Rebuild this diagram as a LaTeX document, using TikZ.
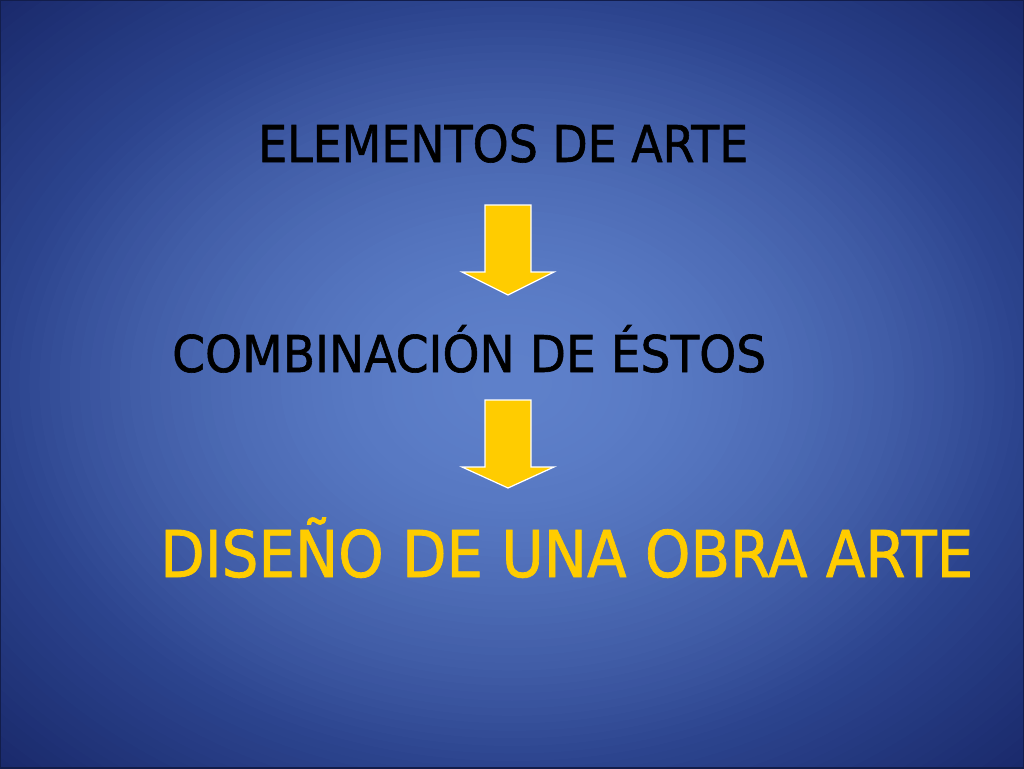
\documentclass[tikz,border=0pt]{standalone}
\usepackage{fontspec}
\setmainfont{DejaVu Sans}[FakeBold=1.2]
\usepackage{graphicx}
\usepackage{xcolor}
\definecolor{bgcorner}{RGB}{26,42,108}
\definecolor{bgedge}{RGB}{44,68,142}
\definecolor{bgcenter}{RGB}{94,128,202}
\definecolor{artyellow}{RGB}{255,204,0}
% squeeze a text to a given width
\newcommand{\fitw}[2]{\sbox0{#2}\scalebox{\fpeval{#1/\wd0}}[1]{\usebox0}}

\begin{document}
\begin{tikzpicture}[x=1pt,y=-1pt,
  yarrow/.style={fill=artyellow, draw=white, line width=1.2pt, line join=miter},
  title/.style={anchor=base west, inner sep=0pt, black}]
\useasboundingbox (0,0) rectangle (1024,768);
\begin{scope}
\clip (0,0) rectangle (1024,768);
% background glow, outer ring then inner part
\foreach \k in {72,...,51}{
  \pgfmathsetmacro{\r}{\k/72}
  \pgfmathsetmacro{\p}{max(0,min(100,100*(\r-0.707)/0.293))}
  \fill [bgcorner!\p!bgedge] (512,384) ellipse [x radius=724*\r, y radius=543*\r];
}
\foreach \k in {50,...,1}{
  \pgfmathsetmacro{\r}{\k/72}
  \pgfmathsetmacro{\p}{100*(\r/0.707)^1.8}
  \fill [bgedge!\p!bgcenter] (512,384) ellipse [x radius=724*\r, y radius=543*\r];
}
\end{scope}
\draw [bgcorner!70!black, line width=1.5pt] (0,0) rectangle (1024,768);

\node [title] (elem) at (258,162) {\fitw{490pt}{\fontsize{50.7}{60}\selectfont ELEMENTOS DE ARTE}};
\node [title] (comb) at (172,372) {\fitw{594pt}{\fontsize{50.7}{60}\selectfont COMBINACIÓN DE ÉSTOS}};
\node [title, artyellow] (dis) at (160,577) {\fitw{813pt}{\fontsize{64.5}{76}\selectfont DISEÑO DE UNA OBRA ARTE}};

% arrows
\coordinate (a1) at (508,205);
\coordinate (a2) at (508,400);
\draw [yarrow] (a1) ++(-23,0) -- ++(46,0) -- ++(0,67) -- ++(23,0) -- ++(-46,23) -- ++(-46,-23) -- ++(23,0) -- cycle;
\draw [yarrow] (a2) ++(-23,0) -- ++(46,0) -- ++(0,67) -- ++(23,0) -- ++(-46,21) -- ++(-46,-21) -- ++(23,0) -- cycle;

\end{tikzpicture}
\end{document}
